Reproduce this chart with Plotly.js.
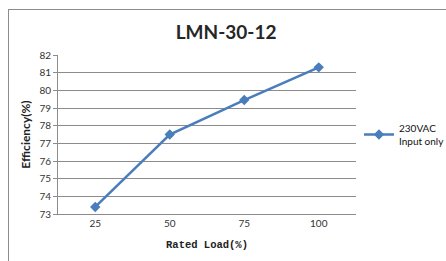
<!DOCTYPE html>
<html><head><meta charset="utf-8">
<script src="https://cdn.plot.ly/plotly-3.0.1.min.js"></script>
<style>html,body{margin:0;padding:0;background:#fff;overflow:hidden}
#frame{position:absolute;left:8px;top:9px;width:460px;height:280px;border:1px solid #8c8c8c;pointer-events:none}
</style></head>
<body><div id="chart" style="width:446px;height:261px"></div><div id="frame"></div>
<script>
var categories = ['25', '50', '75', '100'];
var efficiency = [73.4, 77.5, 79.45, 81.3];
var seriesName = '230VAC<br>Input only';
var yTicks = [73, 74, 75, 76, 77, 78, 79, 80, 81, 82];

Plotly.newPlot('chart', [{
  x: categories, y: efficiency, type: 'scatter', mode: 'lines+markers',
  name: seriesName,
  line: {color: '#4a7dbb', width: 2.5},
  marker: {symbol: 'diamond', size: 8, color: '#4a7dbb'}
}], {
  width: 446, height: 261,
  margin: {l: 58, r: 90, t: 55, b: 47, autoexpand: false},
  paper_bgcolor: '#ffffff', plot_bgcolor: '#ffffff',
  title: {text: '<b>LMN-30-12</b>', font: {family: 'Lato', size: 19, color: '#262626'}, x: 0.507, xanchor: 'center', y: 0.875, yanchor: 'middle'},
  showlegend: true,
  legend: {x: 1.01, xanchor: 'left', y: 0.5, yanchor: 'middle', font: {family: 'Lato', size: 10, color: '#111'}, bgcolor: 'rgba(0,0,0,0)', itemwidth: 30},
  xaxis: {
    type: 'category', range: [-0.5, 3.5], showgrid: false, showline: true, linecolor: '#8c8c8c', linewidth: 1,
    ticks: '', tickfont: {family: 'Lato', size: 10, color: '#333'},
    title: {text: '<b>Rated Load(%)</b>', font: {family: 'Liberation Mono', size: 10.5, color: '#222'}, standoff: 12}
  },
  yaxis: {
    range: [73, 82], tickvals: yTicks, showgrid: true, gridcolor: '#8c8c8c', gridwidth: 1,
    showline: true, linecolor: '#8c8c8c', ticks: 'outside', ticklen: 4, tickcolor: '#8c8c8c',
    tickfont: {family: 'Lato', size: 10, color: '#333'}, zeroline: false,
    title: {text: '<b>Efficiency(%)</b>', font: {family: 'Lato', size: 12, color: '#222'}, standoff: 6}
  }
}, {displayModeBar: false, staticPlot: true});
</script></body></html>
